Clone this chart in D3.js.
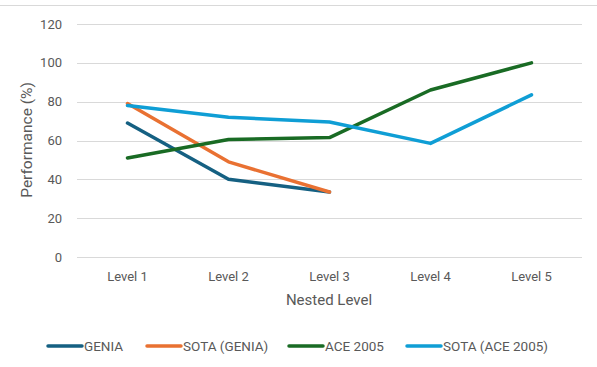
<!DOCTYPE html>
<html>
<head>
<meta charset="utf-8">
<script src="https://cdn.jsdelivr.net/npm/d3@7"></script>
<style>
  body { margin: 0; background: #fff; }
  text { font-family: Roboto, "Noto Sans", sans-serif; fill: #595959; }
</style>
</head>
<body>
<svg id="chart" width="597" height="367"></svg>
<script>
"use strict";
var levels = [ "Level 1", "Level 2", "Level 3", "Level 4", "Level 5" ];
var yTicks = [ 0, 20, 40, 60, 80, 100, 120 ];
var genia = [ 69, 40, 33.5 ];
var sotaGenia = [ 79, 49, 33.5 ];
var ace2005 = [ 51, 60.5, 61.5, 86, 100 ];
var sotaAce = [ 78, 72, 69.5, 58.5, 83.5 ];

var series = [
  { key: "GENIA", values: genia, color: "#156082" },
  { key: "SOTA (GENIA)", values: sotaGenia, color: "#E97132" },
  { key: "ACE 2005", values: ace2005, color: "#196B24" },
  { key: "SOTA (ACE 2005)", values: sotaAce, color: "#0F9ED5" }
];

var svg = d3.select( "#chart" );
var plotLeft = 77, plotRight = 582, plotTop = 24, plotBottom = 257;

// chart border (only top edge visible)
svg.append( "line" )
   .attr( "x1", 0 ).attr( "x2", 597 ).attr( "y1", 5.5 ).attr( "y2", 5.5 )
   .attr( "stroke", "#d9d9d9" ).attr( "stroke-width", 1 );

var x = d3.scaleBand().domain( levels ).range( [ plotLeft, plotRight ] );
var y = d3.scaleLinear().domain( [ 0, 120 ] ).range( [ plotBottom, plotTop ] );

svg.append( "g" )
   .selectAll( "line" )
   .data( yTicks )
   .join( "line" )
   .attr( "x1", plotLeft ).attr( "x2", plotRight )
   .attr( "y1", function( d ) { return Math.round( y( d ) ) + 0.5; } )
   .attr( "y2", function( d ) { return Math.round( y( d ) ) + 0.5; } )
   .attr( "stroke", "#d9d9d9" );

svg.append( "g" )
   .selectAll( "text" )
   .data( yTicks )
   .join( "text" )
   .attr( "x", 62 )
   .attr( "y", function( d ) { return y( d ) + 4.5; } )
   .attr( "text-anchor", "end" )
   .attr( "font-size", 13 )
   .text( function( d ) { return d; } );

svg.append( "g" )
   .selectAll( "text" )
   .data( levels )
   .join( "text" )
   .attr( "x", function( d ) { return x( d ) + x.bandwidth() / 2; } )
   .attr( "y", 281 )
   .attr( "text-anchor", "middle" )
   .attr( "font-size", 13 )
   .text( function( d ) { return d; } );

svg.append( "text" )
   .attr( "x", 329 ).attr( "y", 305 )
   .attr( "text-anchor", "middle" )
   .attr( "font-size", 15 )
   .text( "Nested Level" );

svg.append( "text" )
   .attr( "transform", "translate(32,140) rotate(-90)" )
   .attr( "text-anchor", "middle" )
   .attr( "font-size", 15.5 )
   .text( "Performance (%)" );

var line = d3.line()
  .x( function( d, i ) { return x( levels[i] ) + x.bandwidth() / 2; } )
  .y( function( d ) { return y( d ); } );

svg.append( "g" )
   .selectAll( "path" )
   .data( series )
   .join( "path" )
   .attr( "d", function( s ) { return line( s.values ); } )
   .attr( "fill", "none" )
   .attr( "stroke", function( s ) { return s.color; } )
   .attr( "stroke-width", 3.5 )
   .attr( "stroke-linejoin", "round" )
   .attr( "stroke-linecap", "round" );

// legend
var legendX = [ 48, 147, 289, 407 ];
var lg = svg.append( "g" )
  .selectAll( "g" )
  .data( series )
  .join( "g" )
  .attr( "transform", function( s, i ) { return "translate(" + legendX[i] + ",346)"; } );
lg.append( "line" )
  .attr( "x1", 0 ).attr( "x2", 34 )
  .attr( "stroke", function( s ) { return s.color; } )
  .attr( "stroke-width", 3.5 )
  .attr( "stroke-linecap", "round" );
lg.append( "text" )
  .attr( "x", 36 ).attr( "y", 4.5 )
  .attr( "font-size", 13.5 )
  .text( function( s ) { return s.key; } );
</script>
</body>
</html>
